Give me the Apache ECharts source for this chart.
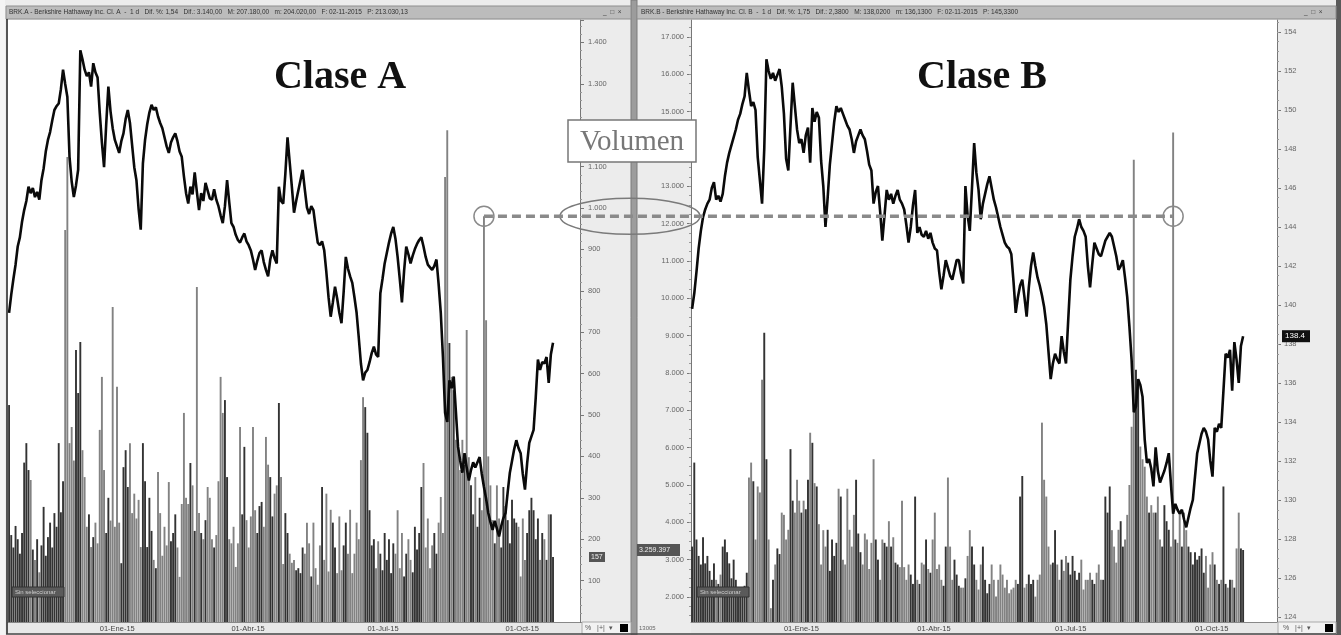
<!DOCTYPE html>
<html><head><meta charset="utf-8">
<script src="https://cdn.jsdelivr.net/npm/echarts@6/dist/echarts.min.js"></script>
<style>html,body{margin:0;padding:0;background:#ececec;}#c{width:1341px;height:635px;}</style>
</head><body><div id="c"></div>
<script>
// ---------- DATA ----------
const startDate = '2014-10-31';
const holidays = ['2014-11-27','2014-12-25','2015-01-01','2015-01-19','2015-02-16','2015-04-03','2015-05-25','2015-07-03','2015-09-07','2015-11-26'];
const monthNames = {0:'Ene',3:'Abr',6:'Jul',9:'Oct'};

const priceA = [209400,210800,212000,213100,214500,215200,216400,217300,218000,219100,
218600,219000,218300,218700,218100,219600,220500,221800,222700,223300,
224200,225000,225300,225500,226600,228100,227000,226000,221400,219500,
218300,219200,220400,229600,228900,228100,227600,227900,226800,228600,
227900,227500,224800,222500,220600,223900,226800,224900,223600,222700,
222200,221700,222600,223200,224300,225000,224000,222300,220600,219600,
217400,215800,220900,222700,223900,224800,225400,225000,225200,224500,
224000,223600,222900,222200,221700,222500,222900,223200,222600,221800,
221400,219900,218600,217800,219100,218500,220200,218700,217300,218600,
218000,219400,218800,218200,218100,218900,218100,217600,216900,216300,
217600,219600,217900,216300,216000,215400,215000,214800,215200,215500,
214900,214600,214200,213500,212700,213400,214000,214200,213300,212700,
212200,213500,214200,213600,213200,219100,218000,217800,220100,222900,
221000,219100,217100,218000,218800,219600,220400,218900,217500,217000,
217600,217300,216000,214800,214600,214900,214200,212500,210600,209100,
210200,211400,210500,209400,208600,211000,213700,212800,212200,211700,
210600,209400,207500,205500,204200,204800,205000,205600,206300,206800,
206200,206000,210900,212000,213200,214000,214800,215500,216000,215100,
213700,212000,210200,212600,214500,213900,213200,213800,214300,214700,
215000,215200,214500,213700,213100,212900,212700,213000,213500,211600,
209400,206000,201700,201000,204200,203600,204500,201800,199100,198000,
197100,198600,197500,196500,197300,197900,197500,197900,198300,197000,
196000,195100,194000,193300,192700,193400,192800,192200,193000,193600,
194000,195600,197100,198000,198900,199600,199000,198600,197000,195800,
197800,199400,199900,200400,202900,205800,205000,205600,205500,206000,
204000,206200,207100];

const volumeA = [524,210,180,232,200,165,215,385,432,367,
343,175,150,200,120,185,278,160,205,240,
180,263,230,432,265,340,947,1123,432,471,
390,657,553,676,415,350,230,260,181,205,
240,190,464,592,367,215,300,245,761,230,
568,240,142,374,415,326,432,263,310,250,
295,181,432,340,181,300,220,150,130,362,
263,160,230,185,338,195,215,260,180,109,
285,505,300,285,384,330,220,809,263,215,
200,246,326,300,200,180,210,340,592,505,
536,350,200,190,230,133,190,471,260,423,
246,180,255,471,270,215,280,290,230,447,
380,350,255,310,330,529,350,140,263,215,
165,143,150,125,130,118,180,165,240,190,
110,240,130,90,185,326,150,310,122,271,
240,180,118,255,125,185,240,165,271,118,
165,240,200,391,543,519,457,270,185,200,
130,195,165,125,215,150,200,118,190,165,
270,130,215,110,165,200,150,120,230,175,
215,326,384,180,250,130,185,215,165,240,
302,215,1075,1188,674,592,560,440,440,367,
440,380,705,398,330,260,350,230,300,270,
980,729,400,330,246,190,330,250,180,326,
280,246,190,295,250,240,230,110,250,150,
215,270,300,270,200,250,150,215,200,150,
260,260,157];

const priceB = [139.8,140.6,141.7,142.9,143.8,144.5,144.9,145.2,145.4,146.0,
146.3,145.4,145.6,145.3,145.7,146.6,147.3,147.8,148.2,148.6,
149.0,149.5,149.8,150.3,150.7,151.9,151.0,150.2,150.4,150.0,
147.6,146.4,145.2,148.0,152.6,152.0,151.6,151.9,151.5,151.8,
152.1,151.2,149.8,147.5,146.9,149.2,151.4,150.2,149.0,148.3,
148.5,147.8,148.7,149.1,147.3,150.1,149.4,149.9,149.6,147.4,
146.1,144.0,145.5,147.2,148.3,149.4,150.2,149.9,150.1,149.8,
149.5,149.2,149.0,148.5,147.8,148.4,148.7,149.0,148.7,148.5,
147.9,147.2,146.9,145.2,145.8,146.1,144.8,143.3,144.6,145.9,
145.4,145.7,145.2,145.6,145.9,145.4,145.2,144.9,144.1,143.2,
144.0,145.1,145.9,143.7,144.0,143.6,143.5,143.8,143.4,143.7,
143.2,142.9,142.8,141.7,140.8,141.5,142.3,141.9,141.5,141.3,
141.8,142.3,142.3,141.6,141.1,146.1,144.6,143.8,146.0,148.3,
146.8,145.9,144.4,145.2,145.7,146.2,146.6,146.0,145.4,145.0,
144.5,144.0,143.6,143.2,143.0,142.9,142.6,141.2,139.6,140.4,
141.0,141.3,140.4,139.4,140.9,142.0,142.7,142.0,141.4,141.0,
140.5,139.9,139.0,137.6,136.2,137.0,137.5,137.2,137.0,138.4,
137.6,137.0,139.2,141.3,142.5,143.5,143.9,144.4,144.0,143.8,
143.5,142.0,140.9,142.1,143.2,142.9,142.6,142.5,142.9,143.3,
143.5,143.7,143.5,143.0,142.5,141.8,142.0,142.3,141.4,140.4,
138.9,137.2,134.5,134.8,136.2,135.9,135.3,133.1,131.9,132.1,
131.6,130.7,132.7,131.5,130.9,131.2,131.5,131.9,132.4,130.8,
129.3,129.8,129.5,129.3,129.5,129.0,128.6,129.1,129.6,130.0,
131.2,132.4,132.9,133.4,133.7,133.5,133.1,132.0,131.2,133.7,
133.5,133.9,133.7,135.6,137.5,137.3,137.7,135.6,138.1,137.2,
136.0,137.9,138.4];

const volumeB = [3350,5600,3540,3100,2870,3600,2900,3100,2700,2460,
2900,2460,2350,2600,3350,3540,3200,2900,2500,3000,
2460,2250,2010,2100,2300,2650,5200,5600,5100,3540,
4960,4800,7820,9080,5690,3540,1700,2460,2870,3300,
3150,4260,4200,3540,3800,5960,4580,4260,5140,4580,
4260,4580,4350,5140,6400,6130,5050,4960,3950,2870,
3790,3350,3800,2700,3540,3100,3450,4900,4690,3000,
2870,4900,3800,3350,4200,5140,3700,3200,2870,3700,
3540,2750,3450,5690,3540,3000,2460,3540,3450,3350,
4030,3350,3600,2920,2870,2800,4580,2800,2460,2870,
2600,2350,4690,2460,2350,2920,2870,3540,2750,2650,
3540,4260,2750,2870,2460,2300,3350,5200,3350,2460,
3000,2600,2300,2250,2250,2500,3100,3790,3350,2870,
2460,2200,2870,3350,2460,2100,2350,2870,2460,2010,
2460,2870,2600,2250,2460,2100,2200,2250,2460,2350,
4690,5240,2250,2350,2600,2350,2460,2010,2460,2600,
6670,5140,4690,3350,2870,2920,3790,2870,2460,3000,
2700,3100,2920,2600,3100,2700,2460,2650,3000,2200,
2460,2460,2650,2460,2350,2650,2870,2460,2460,4690,
4260,4960,3790,3350,2920,3800,4030,3350,3540,4200,
5000,6560,13710,8090,7820,6030,5690,5490,4690,4260,
4460,4260,4260,4690,3540,3350,4460,4030,3800,3350,
14440,3540,3450,4260,3350,4260,3790,3350,3200,2870,
3200,3000,3100,3300,2650,3100,2250,2870,3200,2870,
2460,2350,2460,4960,2350,2250,2460,2460,2250,3300,
4260,3300,3259.397];

const volTicksA_interval = 100;
const volTicksB = [2000,3000,4000,5000,6000,7000,8000,9000,10000,11000,12000,13000,14000,15000,16000,17000];
const priceTicksB = [124,126,128,130,132,134,136,138,140,142,144,146,148,150,152,154];
const markIdx = 220;

const titleA = 'BRK.A - Berkshire Hathaway Inc. Cl. A  -  1 d   Dif. %: 1,54   Dif.: 3.140,00   M: 207.180,00   m: 204.020,00   F: 02-11-2015   P: 213.030,13';
const titleB = 'BRK.B - Berkshire Hathaway Inc. Cl. B  -  1 d   Dif. %: 1,75   Dif.: 2,3800   M: 138,0200   m: 136,1300   F: 02-11-2015   P: 145,3300';

// ---------- BUILD ----------
const dates = [];
(function(){
  let d = new Date(startDate + 'T00:00:00Z');
  while (dates.length < 268) {
    const wd = d.getUTCDay();
    const s = d.toISOString().slice(0,10);
    if (wd !== 0 && wd !== 6 && holidays.indexOf(s) < 0) dates.push(s);
    d = new Date(d.getTime() + 86400000);
  }
})();
const monthOf = s => parseInt(s.slice(5,7),10) - 1;
function isQuarter(idx){
  if (idx <= 0 || idx >= dates.length) return false;
  const m = monthOf(dates[idx]);
  return m !== monthOf(dates[idx-1]) && (m in monthNames);
}
function fmtDate(v){
  const m = monthOf(v);
  return '01-' + monthNames[m] + '-' + v.slice(2,4);
}
const fmtK = v => String(Math.round(v)).replace(/\B(?=(\d{3})+(?!\d))/g, '.');
const volMinorB = []; for (let v = 1500; v <= 17250; v += 250) volMinorB.push(v);
const priceMinorB = []; for (let v = 124; v <= 154.5; v += 0.5) priceMinorB.push(v);

const DARK = '#333333', GRAY = '#828282';
const colorBy = prices => p => (p.dataIndex > 0 && prices[p.dataIndex] < prices[p.dataIndex-1]) ? GRAY : DARK;

const axisFont = {fontFamily: 'Liberation Sans', fontSize: 7.5, color: '#666'};
const xAxisCommon = (gi, max) => ({
  type: 'category', gridIndex: gi, data: dates, max: max, boundaryGap: true,
  axisLine: {lineStyle: {color: '#888', width: 1}},
  axisTick: {interval: isQuarter, length: 5, lineStyle: {color: '#666'}},
  axisLabel: {interval: isQuarter, formatter: fmtDate, align: 'left', margin: 3, color: '#444', fontSize: 7.5, fontFamily: 'Liberation Sans'},
  splitLine: {show: false}
});

const volMinB = 1330, volMaxB = 17455, prMinB = 123.744, prMaxB = 154.615;

const option = {
  animation: false,
  backgroundColor: 'transparent',
  grid: [
    {left: 8, top: 20, width: 572, height: 602, show: true, backgroundColor: '#ffffff', borderWidth: 0},
    {left: 691, top: 20, width: 586, height: 602, show: true, backgroundColor: '#ffffff', borderWidth: 0}
  ],
  xAxis: [xAxisCommon(0, 264), xAxisCommon(1, 267)],
  yAxis: [
    {type: 'value', gridIndex: 0, position: 'right', min: 0, max: 1454, interval: volTicksA_interval,
     axisLine: {show: true, lineStyle: {color: '#777'}},
     axisTick: {show: true, length: 4, lineStyle: {color: '#777'}},
     minorTick: {show: true, splitNumber: 5, length: 2, lineStyle: {color: '#999'}},
     axisLabel: Object.assign({formatter: fmtK, margin: 8, showMinLabel: false, showMaxLabel: false}, axisFont),
     splitLine: {show: false}},
    {type: 'value', gridIndex: 0, show: false, min: 185615, max: 231923, splitLine: {show: false}},
    {type: 'value', gridIndex: 1, position: 'left', min: volMinB, max: volMaxB,
     axisLine: {show: true, lineStyle: {color: '#777'}},
     axisTick: {show: true, length: 4, customValues: volTicksB, lineStyle: {color: '#777'}},
     axisLabel: Object.assign({customValues: volTicksB, formatter: fmtK, margin: 7}, axisFont),
     splitLine: {show: false}},
    {type: 'value', gridIndex: 1, position: 'right', min: prMinB, max: prMaxB,
     axisLine: {show: true, lineStyle: {color: '#777'}},
     axisTick: {show: true, length: 4, customValues: priceTicksB, lineStyle: {color: '#777'}},
     axisLabel: Object.assign({customValues: priceTicksB, formatter: v => String(Math.round(v)), margin: 7}, axisFont),
     splitLine: {show: false}},
    {type: 'value', gridIndex: 1, position: 'left', min: volMinB, max: volMaxB,
     axisLine: {show: false}, axisLabel: {show: false}, splitLine: {show: false},
     axisTick: {show: true, length: 2, customValues: volMinorB, lineStyle: {color: '#999'}}},
    {type: 'value', gridIndex: 1, position: 'right', min: prMinB, max: prMaxB,
     axisLine: {show: false}, axisLabel: {show: false}, splitLine: {show: false},
     axisTick: {show: true, length: 2, customValues: priceMinorB, lineStyle: {color: '#999'}}}
  ],
  series: [
    {type: 'bar', xAxisIndex: 0, yAxisIndex: 0, data: volumeA, barCategoryGap: '12%',
     itemStyle: {color: colorBy(priceA)}, z: 2},
    {type: 'line', xAxisIndex: 0, yAxisIndex: 1, data: priceA, showSymbol: false, symbol: 'none',
     lineStyle: {color: '#0a0a0a', width: 2.6}, z: 3},
    {type: 'bar', xAxisIndex: 1, yAxisIndex: 2, data: volumeB, barCategoryGap: '12%',
     itemStyle: {color: colorBy(priceB)}, z: 2},
    {type: 'line', xAxisIndex: 1, yAxisIndex: 3, data: priceB, showSymbol: false, symbol: 'none',
     lineStyle: {color: '#0a0a0a', width: 2.6}, z: 3}
  ]
};

const chart = echarts.init(document.getElementById('c'), null, {renderer: 'canvas'});
chart.setOption(option);

// ---------- DECORATION / ANNOTATIONS ----------
const pA = chart.convertToPixel({xAxisIndex: 0, yAxisIndex: 0}, [markIdx, volumeA[markIdx]]);
const pB = chart.convertToPixel({xAxisIndex: 1, yAxisIndex: 2}, [markIdx, volumeB[markIdx]]);
const yLine = pA[1];
const lastA = volumeA.length - 1, lastB = volumeB.length - 1;
const yTagA = chart.convertToPixel({xAxisIndex: 0, yAxisIndex: 0}, [lastA, volumeA[lastA]])[1];
const yTagBv = chart.convertToPixel({xAxisIndex: 1, yAxisIndex: 2}, [lastB, volumeB[lastB]])[1];
const yTagBp = chart.convertToPixel({xAxisIndex: 1, yAxisIndex: 3}, [lastB, priceB[lastB]])[1];

const smallTxt = (x, y, text, opt) => Object.assign({type: 'text', x: x, y: y, z: 50,
  style: Object.assign({text: text, fill: '#333', font: '6.5px "Liberation Sans"', verticalAlign: 'middle'}, opt || {})});
const g = [
  {type: 'rect', shape: {x: 631, y: 0, width: 6, height: 635}, style: {fill: '#9c9c9c', stroke: '#7a7a7a', lineWidth: 1}, z: 5},
  {type: 'rect', shape: {x: 1336, y: 0, width: 5, height: 635}, style: {fill: '#5a5a5a'}, z: 5},
  {type: 'rect', shape: {x: 0, y: 0, width: 5, height: 635}, style: {fill: '#f4f4f4'}, z: 5},
  {type: 'line', shape: {x1: 7, y1: 19, x2: 7, y2: 634}, style: {stroke: '#222', lineWidth: 1.5}, z: 6},
  {type: 'line', shape: {x1: 6, y1: 634, x2: 1336, y2: 634}, style: {stroke: '#444', lineWidth: 1.5}, z: 6},
  {type: 'rect', shape: {x: 6, y: 6, width: 625, height: 13}, style: {fill: '#bcbcbc', stroke: '#8e8e8e', lineWidth: 1}, z: 5},
  {type: 'rect', shape: {x: 637, y: 6, width: 699, height: 13}, style: {fill: '#bcbcbc', stroke: '#8e8e8e', lineWidth: 1}, z: 5},
  smallTxt(9, 12.5, titleA),
  smallTxt(641, 12.5, titleB),
  smallTxt(603, 12.5, '_  \u25a1  \u00d7', {fill: '#444'}),
  smallTxt(1304, 12.5, '_  \u25a1  \u00d7', {fill: '#444'}),
  {type: 'rect', shape: {x: 8, y: 622.5, width: 572, height: 11}, style: {fill: '#e8e8e8'}, z: -1},
  {type: 'rect', shape: {x: 691, y: 622.5, width: 586, height: 11}, style: {fill: '#e8e8e8'}, z: -1},
  {type: 'rect', shape: {x: 582, y: 622, width: 49, height: 12}, style: {fill: '#f2f2f2', stroke: '#aaa', lineWidth: 1}, z: 5},
  smallTxt(585, 628, '%   |+|  \u25be', {fill: '#555', font: '7px "Liberation Sans"'}),
  {type: 'rect', shape: {x: 620, y: 624, width: 8, height: 8}, style: {fill: '#000'}, z: 6},
  {type: 'rect', shape: {x: 1278, y: 622, width: 58, height: 12}, style: {fill: '#f2f2f2', stroke: '#aaa', lineWidth: 1}, z: 5},
  smallTxt(1283, 628, '%   |+|  \u25be', {fill: '#555', font: '7px "Liberation Sans"'}),
  {type: 'rect', shape: {x: 1325, y: 624, width: 8, height: 8}, style: {fill: '#000'}, z: 6},
  smallTxt(639, 628, '13005', {fill: '#666', font: '6px "Liberation Sans"'}),
  {type: 'rect', shape: {x: 12, y: 587, width: 52, height: 10}, style: {fill: '#5a5a5a', stroke: '#333'}, z: 20},
  smallTxt(15, 592, 'Sin seleccionar', {fill: '#cfcfcf', font: '6px "Liberation Sans"'}),
  {type: 'rect', shape: {x: 697, y: 587, width: 52, height: 10}, style: {fill: '#5a5a5a', stroke: '#333'}, z: 20},
  smallTxt(700, 592, 'Sin seleccionar', {fill: '#cfcfcf', font: '6px "Liberation Sans"'}),
  {type: 'rect', shape: {x: 589, y: yTagA - 5, width: 16, height: 10}, style: {fill: '#555'}, z: 20},
  smallTxt(591, yTagA, fmtK(volumeA[lastA]), {fill: '#eee', font: '7px "Liberation Sans"'}),
  {type: 'rect', shape: {x: 637, y: yTagBv - 6, width: 43, height: 12}, style: {fill: '#555'}, z: 20},
  smallTxt(639, yTagBv, fmtK(volumeB[lastB] * 1000), {fill: '#eee', font: '7px "Liberation Sans"'}),
  {type: 'rect', shape: {x: 1282, y: yTagBp - 6, width: 28, height: 12}, style: {fill: '#111'}, z: 20},
  smallTxt(1285, yTagBp, priceB[lastB].toFixed(1), {fill: '#fff', font: '8px "Liberation Sans"'}),
  {type: 'text', x: 340, y: 78, z: 60, style: {text: 'Clase A', fill: '#111', font: 'bold 40px "Liberation Serif"', align: 'center', verticalAlign: 'middle'}},
  {type: 'text', x: 982, y: 78, z: 60, style: {text: 'Clase B', fill: '#111', font: 'bold 40px "Liberation Serif"', align: 'center', verticalAlign: 'middle'}},
  {type: 'rect', shape: {x: 568, y: 120, width: 128, height: 42}, style: {fill: '#fff', stroke: '#777', lineWidth: 1.5}, z: 60},
  {type: 'text', x: 632, y: 142, z: 61, style: {text: 'Volumen', fill: '#777', font: '29px "Liberation Serif"', align: 'center', verticalAlign: 'middle'}},
  {type: 'ellipse', shape: {cx: 630, cy: yLine, rx: 70, ry: 18}, style: {fill: 'none', stroke: '#7a7a7a', lineWidth: 1.5}, z: 60},
  {type: 'line', shape: {x1: pA[0], y1: yLine, x2: pB[0], y2: yLine}, style: {stroke: '#8a8a8a', lineWidth: 3.5, lineDash: [9, 5]}, z: 62},
  {type: 'circle', shape: {cx: pA[0], cy: yLine, r: 10}, style: {fill: 'none', stroke: '#8a8a8a', lineWidth: 1.5}, z: 62},
  {type: 'circle', shape: {cx: pB[0], cy: yLine, r: 10}, style: {fill: 'none', stroke: '#8a8a8a', lineWidth: 1.5}, z: 62}
];
chart.setOption({graphic: {elements: g}});
</script></body></html>
